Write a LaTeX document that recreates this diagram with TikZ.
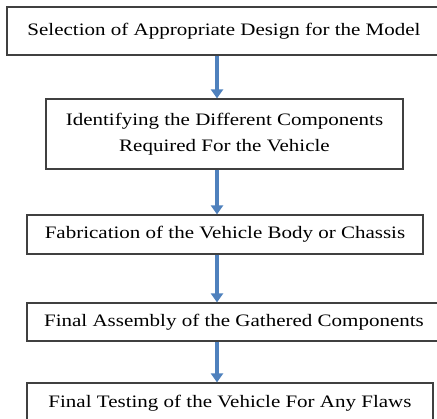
\documentclass[tikz,border=0pt]{standalone}
\usepackage{fontspec}
\setmainfont[FakeStretch=1.2]{Liberation Serif}
\usetikzlibrary{arrows.meta}
\definecolor{arrowblue}{RGB}{79,129,189}
\definecolor{boxgray}{RGB}{64,64,64}
\begin{document}
\begin{tikzpicture}[x=1pt,y=-1pt,
  stepbox/.style={draw=boxgray,line width=1.2pt,rectangle,inner sep=0pt,align=center,
    font=\fontsize{17.5}{26}\selectfont},
  flow/.style={draw=arrowblue,line width=3.4pt,-{Triangle[width=12pt,length=9pt]}}]
\useasboundingbox (0,0) rectangle (437,419);
\clip (0,0) rectangle (437,419);
\node[stepbox,minimum width=434pt,minimum height=48pt] (b1) at (224,31) {Selection of Appropriate Design for the Model};
\node[stepbox,minimum width=357pt,minimum height=70pt] (b2) at (224.5,134) {Identifying the Different Components\\Required For the Vehicle};
\node[stepbox,minimum width=396pt,minimum height=39pt] (b3) at (225,234.5) {Fabrication of the Vehicle Body or Chassis};
\node[stepbox,minimum width=414pt,minimum height=38pt] (b4) at (234,322) {Final Assembly of the Gathered Components};
\node[stepbox,minimum width=406pt,minimum height=40pt] (b5) at (230,403) {Final Testing of the Vehicle For Any Flaws};
\draw[flow] (b1.south -| 217,0) -- (b2.north -| 217,0);
\draw[flow] (b2.south -| 217,0) -- (b3.north -| 217,0);
\draw[flow] (b3.south -| 217,0) -- (b4.north -| 217,0);
\draw[flow] (b4.south -| 217,0) -- (b5.north -| 217,0);
\end{tikzpicture}
\end{document}
